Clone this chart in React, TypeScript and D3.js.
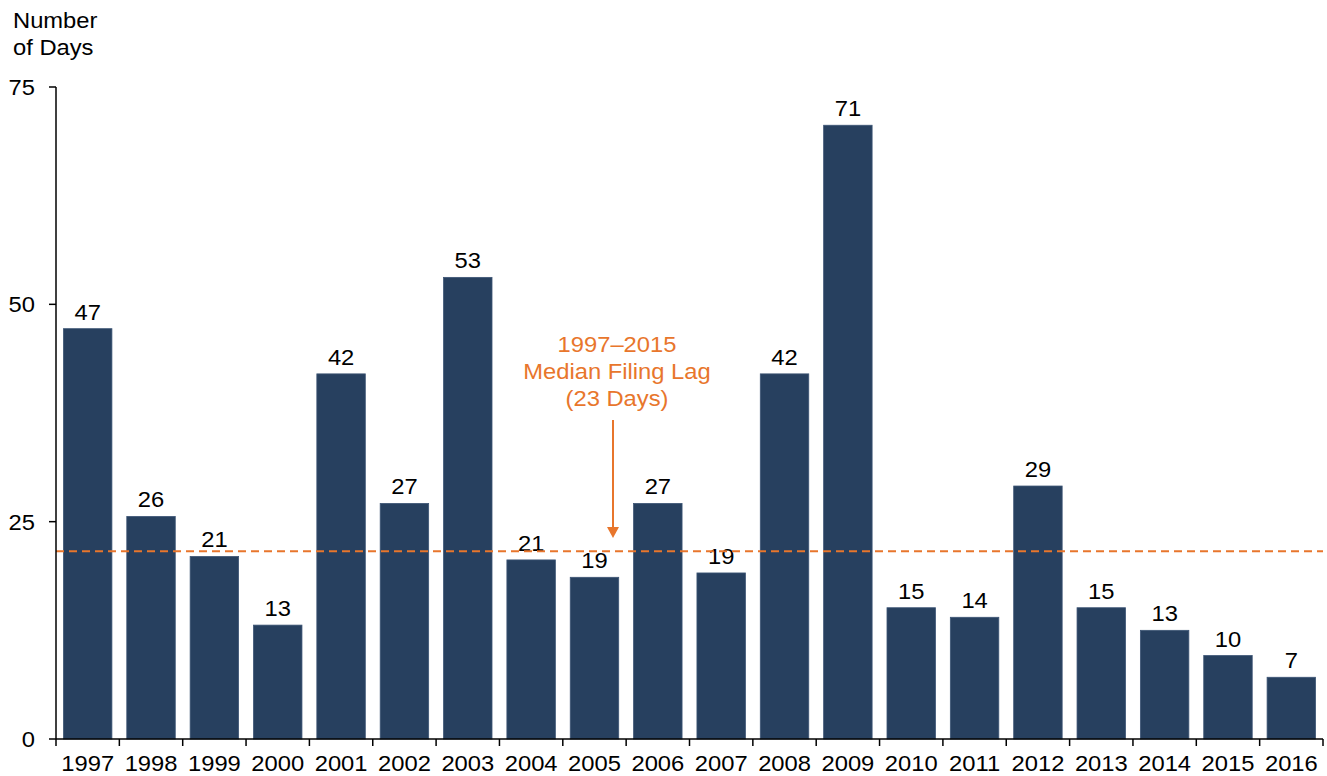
import React from "react";
import * as d3 from "d3";

const years = ["1997","1998","1999","2000","2001","2002","2003","2004","2005","2006","2007","2008","2009","2010","2011","2012","2013","2014","2015","2016"];
const values = [47.2, 25.6, 21.0, 13.1, 42.0, 27.1, 53.1, 20.6, 18.6, 27.1, 19.1, 42.0, 70.6, 15.1, 14.0, 29.1, 15.1, 12.5, 9.6, 7.1];
const labels = ["47","26","21","13","42","27","53","21","19","27","19","42","71","15","14","29","15","13","10","7"];
const yTicks = [0, 25, 50, 75];
const medianLine = 21.6;
const annotationLines = ["1997–2015", "Median Filing Lag", "(23 Days)"];

const SX = 1.08;

function T({ x, y, anchor = "start", fill = "#000", size = 22, children }: any) {
  return (
    <text transform={`translate(${x},${y}) scale(${SX},1)`} fontSize={size} textAnchor={anchor} fill={fill}>
      {children}
    </text>
  );
}

export default function App() {
  const W = 1327, H = 776;
  const left = 56, right = 1323, top = 87, bottom = 739;
  const x = d3.scaleBand<string>().domain(years).range([left, right]).paddingInner(0.235).paddingOuter(0.1175);
  const y = d3.scaleLinear().domain([0, 75]).range([bottom, top]);
  const font = "Arial, 'Liberation Sans', sans-serif";
  const orange = "#E8762C";
  const barColor = "#27405F";
  const step = x.step();
  const arrowX = 613;
  const textX = 617;

  return (
    <svg width={W} height={H} style={{ position: "absolute", left: 0, top: 0, background: "#fff" }} fontFamily={font}>
      {/* y title */}
      <T x={13} y={28}>Number</T>
      <T x={13} y={55}>of Days</T>

      {/* bars */}
      {years.map((yr, i) => (
        <g key={yr}>
          <rect x={x(yr)} y={y(values[i])} width={x.bandwidth()} height={bottom - y(values[i])} fill={barColor} stroke="#3d5575" strokeWidth={0.8} />
          <T x={(x(yr) as number) + x.bandwidth() / 2} y={y(values[i]) - 9} anchor="middle">{labels[i]}</T>
        </g>
      ))}

      {/* median line */}
      <line x1={left} x2={right} y1={y(medianLine)} y2={y(medianLine)} stroke={orange} strokeWidth={2} strokeDasharray="8,5" />

      {/* annotation */}
      {annotationLines.map((t, i) => (
        <T key={i} x={textX} y={352 + i * 27} anchor="middle" fill={orange}>{t}</T>
      ))}
      <line x1={arrowX} x2={arrowX} y1={420} y2={530} stroke={orange} strokeWidth={2} />
      <path d={`M${arrowX - 6},${527} L${arrowX + 6},${527} L${arrowX},${538} Z`} fill={orange} />

      {/* y axis */}
      <line x1={left} x2={left} y1={top} y2={bottom} stroke="#000" strokeWidth={1.5} />
      {yTicks.map((t) => (
        <g key={t}>
          <line x1={left - 7} x2={left} y1={y(t)} y2={y(t)} stroke="#000" strokeWidth={1.5} />
          <T x={35} y={y(t) + 8} anchor="end">{t}</T>
        </g>
      ))}

      {/* x axis */}
      <line x1={left} x2={right} y1={bottom} y2={bottom} stroke="#000" strokeWidth={1.5} />
      {d3.range(years.length + 1).map((i) => (
        <line key={i} x1={left + i * step} x2={left + i * step} y1={bottom} y2={bottom + 7} stroke="#000" strokeWidth={1.5} />
      ))}
      {years.map((yr) => (
        <T key={yr} x={(x(yr) as number) + x.bandwidth() / 2} y={771} anchor="middle">{yr}</T>
      ))}
    </svg>
  );
}
